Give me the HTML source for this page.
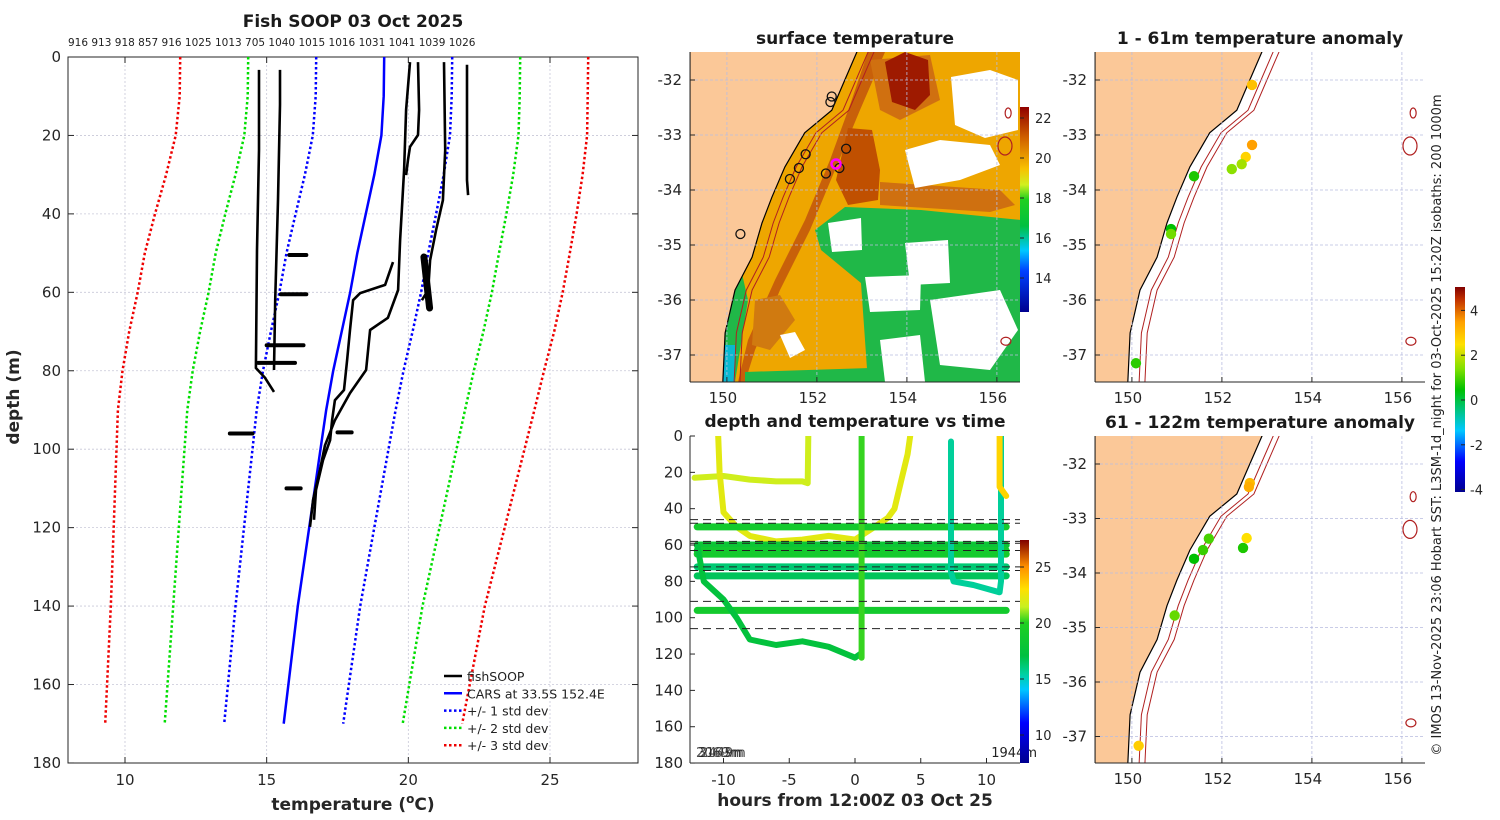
<!DOCTYPE html>
<html><head><meta charset="utf-8"><style>
body{margin:0;background:#fff}
svg{display:block;font-family:"DejaVu Sans","Liberation Sans",sans-serif}
.tk{font-size:15px;fill:#262626}
.ti{font-size:17px;font-weight:bold;fill:#1a1a1a}
</style></head><body>
<svg id="fig" width="1500" height="820" viewBox="0 0 1500 820" xmlns="http://www.w3.org/2000/svg">
<defs>
<linearGradient id="jet" x1="0" y1="1" x2="0" y2="0">
<stop offset="0" stop-color="#00008f"/><stop offset="0.18" stop-color="#0000ff"/><stop offset="0.33" stop-color="#00c8ff"/><stop offset="0.4" stop-color="#00d0a0"/><stop offset="0.48" stop-color="#00c040"/><stop offset="0.63" stop-color="#20d020"/><stop offset="0.7" stop-color="#c8f020"/><stop offset="0.78" stop-color="#ffe000"/><stop offset="0.88" stop-color="#ff9000"/><stop offset="1" stop-color="#800000"/>
</linearGradient>
<linearGradient id="sstjet" x1="0" y1="1" x2="0" y2="0">
<stop offset="0" stop-color="#00008f"/><stop offset="0.2" stop-color="#0040ff"/><stop offset="0.3" stop-color="#00c8ff"/><stop offset="0.42" stop-color="#00c040"/><stop offset="0.55" stop-color="#20d020"/><stop offset="0.62" stop-color="#d0f020"/><stop offset="0.7" stop-color="#f8c000"/><stop offset="0.85" stop-color="#d06000"/><stop offset="1" stop-color="#900000"/>
</linearGradient>
<linearGradient id="anjet" x1="0" y1="1" x2="0" y2="0">
<stop offset="0" stop-color="#00008f"/><stop offset="0.15" stop-color="#0000ff"/><stop offset="0.3" stop-color="#00c8ff"/><stop offset="0.5" stop-color="#00c000"/><stop offset="0.6" stop-color="#80e000"/><stop offset="0.72" stop-color="#ffe000"/><stop offset="0.83" stop-color="#ffa000"/><stop offset="0.94" stop-color="#c03000"/><stop offset="1" stop-color="#800000"/>
</linearGradient>
<clipPath id="cm1"><rect x="690" y="52" width="330" height="330"/></clipPath>
<clipPath id="cm2"><rect x="1095" y="52" width="330" height="330"/></clipPath>
<clipPath id="cm3"><rect x="1095" y="436" width="330" height="327"/></clipPath>
<clipPath id="cts"><rect x="690" y="436" width="330" height="327"/></clipPath>
</defs>
<g id="left"></g><g id="sst"></g><g id="ts"></g><g id="an1"></g><g id="an2"></g>
<text x="1441" y="425" transform="rotate(-90 1441 425)" text-anchor="middle" font-size="13" fill="#222">© IMOS 13-Nov-2025 23:06 Hobart SST: L3SM-1d_night for 03-Oct-2025 15:20Z isobaths: 200  1000m</text>
</svg>
<script>
// ---------- DATA ----------
const depthTicks=[0,20,40,60,80,100,120,140,160,180];
const tempTicks=[10,15,20,25];
const carsDepth=[0,10,20,30,40,50,60,70,80,90,100,120,140,170];
const carsTemp=[19.15,19.13,19.05,18.8,18.5,18.2,17.95,17.65,17.35,17.1,16.9,16.5,16.1,15.6];
const carsStd=[2.4,2.4,2.42,2.45,2.48,2.5,2.5,2.5,2.48,2.45,2.4,2.3,2.2,2.1];
const profA_t=[14.73,14.73,14.66,14.62,14.94,15.26];
const profA_d=[3.3,23.7,49.2,79.3,81.8,85.4];
const profB_t=[15.47,15.47,15.4,15.3,15.26];
const profB_d=[3.3,12.2,36.5,62,79.8];
const profC1_t=[20.06,19.92,19.85,19.71,19.64,19.28,18.65,18.51,17.94,17.41,17.06,16.88,16.64,16.53];
const profC1_d=[1.3,13.5,28.8,46.7,59.4,66.5,69.6,79.8,85.7,92.6,99,105.3,112.9,119.8];
const profC2_t=[19.46,19.18,18.3,18.05,17.94,17.84,17.73,17.41,17.31,17.24,16.99,16.74,16.67];
const profC2_d=[52.3,58.1,60.2,62,69.6,77.3,84.9,87.5,92.6,97.7,102.8,110.4,118];
const profC3_t=[20.34,20.38,20.34,20.06,19.99,19.92];
const profC3_d=[1.3,13.5,19.9,22.9,26.2,30.1];
const profD_t=[21.26,21.3,21.22,20.98,20.77,20.7,20.48];
const profD_d=[1.3,23.7,36.5,44.1,51.8,59.4,62];
const profE_t=[22.07,22.07,22.11];
const profE_d=[2,31.4,35.2];
const blobT1=[15.8,15.5,15.0,14.7,13.7,17.5,15.7,20.55];
const blobT2=[16.4,16.4,16.3,16.0,14.5,18.0,16.2,20.75];
const blobD=[50.5,60.5,73.5,78,96,95.7,110,58];
const siteLabels="916 913 918 857 916 1025 1013 705 1040 1015 1016 1031 1041 1039 1026";

// time-depth chart
const hourTicks=[-10,-5,0,5,10];
const dashDepths=[46,48,58,59,63,72,74,91,106];
const levDepths=[50,60,63,65,72,77,96];
const levTemps=[18.8,18.0,18.6,18.9,16.2,16.6,18.8];
const levStart=[-12,-12,-12,-12,-12,-12,-12];
const levEnd=[11.5,11.5,11.5,11.5,11.5,11.5,11.5];
const trk1_h=[-12.2,-10,-8,-6,-4,-3.6,-3.55];
const trk1_d=[23,22,24,25,25,26,0];
const trk1_T=21.7;
const trk2_h=[-10.4,-10.3,-10,-9,-8,-6,-4,-2,0,1.5,2.5,3,3.5,4,4.2];
const trk2_d=[0,20,42,50,55,58,57,55,57,50,45,40,25,10,0];
const trk2_T=22.2;
const trk3_h=[0.5,0.5];
const trk3_d=[0,122];
const trk3_T=20.2;
const trk4_h=[-12,-11.5,-10,-9,-8,-6,-4,-2,0,0.4];
const trk4_d=[60,80,90,100,112,115,113,116,122,120];
const trk4_T=17.3;
const trk5_h=[7.3,7.3,7.5,9,11,11.1,11.1];
const trk5_d=[3,75,80,82,86,80,0];
const trk5_T=15.6;
const trk6_h=[11,11,11.5];
const trk6_d=[0,28,33];
const trk6_T=23.3;

// maps
const latTicks=[-32,-33,-34,-35,-36,-37];
const lonTicks=[150,152,154,156];
const coastLon=[152.9,152.62,152.33,151.73,151.29,151.0,150.78,150.56,150.18,149.96,149.91];
const coastLat=[-31.47,-32.0,-32.55,-32.96,-33.58,-34.13,-34.6,-35.22,-35.82,-36.6,-37.5];
const sstBoxLon=[152.33,152.3,151.75,151.6,151.4,152.2,152.5,152.65,150.3];
const sstBoxLat=[-32.3,-32.4,-33.35,-33.6,-33.8,-33.7,-33.6,-33.25,-34.8];
const an1Lon=[152.67,152.67,152.53,152.44,152.22,151.38,150.87,150.87,150.09];
const an1Lat=[-32.09,-33.18,-33.40,-33.53,-33.62,-33.75,-34.71,-34.80,-37.15];
const an1Val=[2.5,3.0,2.2,1.2,1.0,0.2,0.0,0.8,0.3];
const an2Lon=[152.62,152.6,152.55,152.47,151.71,151.58,151.38,150.95,150.15];
const an2Lat=[-32.35,-32.42,-33.36,-33.54,-33.37,-33.58,-33.74,-34.78,-37.17];
const an2Val=[2.6,2.8,2.0,0.2,0.5,0.4,0.0,0.7,2.3];

// ---------- HELPERS ----------
const NS="http://www.w3.org/2000/svg";
function mk(tag,par,at){const e=document.createElementNS(NS,tag);for(const k in at)e.setAttribute(k,at[k]);par.appendChild(e);return e;}
function hexRGB(h){return [parseInt(h.substr(1,2),16),parseInt(h.substr(3,2),16),parseInt(h.substr(5,2),16)];}
function cmap(stops,v){ // stops [[val,hex],...]
 if(v<=stops[0][0])return stops[0][1];
 for(let i=1;i<stops.length;i++){if(v<=stops[i][0]){const a=stops[i-1],b=stops[i];const f=(v-a[0])/(b[0]-a[0]);
  const ca=hexRGB(a[1]),cb=hexRGB(b[1]);return `rgb(${ca.map((c,k)=>Math.round(c+(cb[k]-c)*f)).join(',')})`;}}
 return stops[stops.length-1][1];}
const TS=[[7.5,'#00008f'],[11,'#0000ff'],[14,'#00c8ff'],[15.5,'#00d0a0'],[17,'#00c040'],[20,'#20d020'],[21.5,'#c8f020'],[23,'#ffe000'],[25,'#ff9000'],[27.4,'#800000']];
const AS=[[-4.5,'#00008f'],[-3.2,'#0000ff'],[-1.8,'#00c8ff'],[0,'#00c000'],[0.9,'#80e000'],[2,'#ffe000'],[3,'#ffa000'],[4,'#c03000'],[4.5,'#800000']];
function pts(xs,ys,fx,fy){return xs.map((v,i)=>fx(v).toFixed(1)+","+fy(ys[i]).toFixed(1)).join(" ");}

// ---------- LEFT PROFILE ----------
const L=document.getElementById('left');
const LX=t=>125+(t-10)*28.333, LY=d=>57+d*3.922;
let t0=mk('text',L,{x:353,y:27,'text-anchor':'middle',class:'ti'});t0.textContent="Fish SOOP 03 Oct 2025";


let sl=mk('text',L,{x:68,y:46,'font-size':'10.5',fill:'#222'});sl.textContent=siteLabels;


let axL=mk('rect',L,{x:68,y:57,width:570,height:706,fill:'#fff',stroke:'#262626','stroke-width':1});


depthTicks.forEach(d=>{const y=LY(d);
 if(d>0&&d<180){let g=mk('line',L,{x1:68,x2:638,y1:y,y2:y,stroke:'#c8c8d8','stroke-dasharray':'2,2','stroke-width':0.8});
 
 }
 mk('line',L,{x1:68,x2:74,y1:y,y2:y,stroke:'#262626'});mk('line',L,{x1:632,x2:638,y1:y,y2:y,stroke:'#262626'});
 let tx=mk('text',L,{x:61,y:y+5,'text-anchor':'end',class:'tk'});tx.textContent=d;
 
 });
tempTicks.forEach(t=>{const x=LX(t);
 let g=mk('line',L,{x1:x,x2:x,y1:57,y2:763,stroke:'#c8c8d8','stroke-dasharray':'2,2','stroke-width':0.8});
 
 
 mk('line',L,{x1:x,x2:x,y1:57,y2:63,stroke:'#262626'});mk('line',L,{x1:x,x2:x,y1:757,y2:763,stroke:'#262626'});
 let tx=mk('text',L,{x:x,y:785,'text-anchor':'middle',class:'tk'});tx.textContent=t;
 
 });
let xl=mk('text',L,{x:353,y:810,'text-anchor':'middle','font-size':'17','font-weight':'bold',fill:'#262626'});
xl.innerHTML='temperature (<tspan dy="-7" font-size="12">o</tspan><tspan dy="7">C)</tspan>';


let yl=mk('text',L,{x:19,y:397,'text-anchor':'middle','font-size':'17','font-weight':'bold',fill:'#262626',transform:'rotate(-90 19 397)'});yl.textContent="depth (m)";


const stdCols=['#0000ff','#00dd00','#ee0000'];
[1,2,3].forEach((k,i)=>{[-1,1].forEach(s=>{
 let p=mk('polyline',L,{points:pts(carsTemp.map((v,j)=>v+s*k*carsStd[j]),carsDepth,LX,LY),fill:'none',stroke:stdCols[i],'stroke-width':2.5,'stroke-dasharray':'2.5,2.5'});
 
 });});
let cars=mk('polyline',L,{points:pts(carsTemp,carsDepth,LX,LY),fill:'none',stroke:'#0000ff','stroke-width':2.5});


[[profA_t,profA_d],[profB_t,profB_d],[profC1_t,profC1_d],[profC2_t,profC2_d],[profC3_t,profC3_d],[profD_t,profD_d],[profE_t,profE_d]].forEach(p=>{
 let l=mk('polyline',L,{points:pts(p[0],p[1],LX,LY),fill:'none',stroke:'#000','stroke-width':2.6,'stroke-linejoin':'round'});
 
 });
blobD.forEach((d,i)=>{
 const vert=blobT2[i]-blobT1[i]<0.3;
 let b=vert?mk('line',L,{x1:LX(blobT1[i]),x2:LX(blobT2[i]),y1:LY(d-7),y2:LY(d+6),stroke:'#000','stroke-width':7,'stroke-linecap':'round'})
 :mk('line',L,{x1:LX(blobT1[i]),x2:LX(blobT2[i]),y1:LY(d),y2:LY(d),stroke:'#000','stroke-width':4,'stroke-linecap':'round'});
 
 });
const legN=["fishSOOP","CARS at 33.5S 152.4E","+/- 1 std dev","+/- 2 std dev","+/- 3 std dev"];
const legC=['#000','#0000ff','#0000ff','#00dd00','#ee0000'];
legN.forEach((n,i)=>{const y=676+i*17.3;
 let g=mk('g',L,{});
 
 
 mk('line',g,{x1:444,x2:462,y1:y,y2:y,stroke:legC[i],'stroke-width':2.5,'stroke-dasharray':i>1?'2.5,2.5':'none'});
 let t=mk('text',g,{x:467,y:y+5,'font-size':'12.5',fill:'#222'});t.textContent=n;});

// ---------- MAP HELPERS ----------
const MLON=(x0)=>lon=>x0+(lon-149.18)*45;
const MLAT=(y0)=>lat=>y0+28+(-32-lat)*55;
function drawMap(G,x0,y0,h,clip,name){
 const fx=MLON(x0),fy=MLAT(y0);
 let bg=mk('rect',G,{x:x0,y:y0,width:330,height:h,fill:'#fff'});
 
 
 return {fx,fy};
}
function landAndGrid(G,x0,y0,h,clip,fx,fy,iso){
 const g=mk('g',G,{'clip-path':'url(#'+clip+')'});
 let land=mk('polygon',g,{points:pts(coastLon,coastLat,fx,fy)+` ${x0},${y0+h+5} ${x0},${y0-5}`,fill:'#fbc898',stroke:'#000','stroke-width':1.2});
 
 
 if(iso){[0.25,0.38].forEach(o=>{
  let l=mk('polyline',g,{points:pts(coastLon.map(v=>v+o),coastLat,fx,fy),fill:'none',stroke:'#b02020','stroke-width':1});
  
  });
  [[156.25,-32.6,3,5],[156.18,-33.2,7,9],[156.2,-36.75,5,4]].forEach(s=>{
  let e=mk('ellipse',g,{cx:fx(s[0]),cy:fy(s[1]),rx:s[2],ry:s[3],fill:'none',stroke:'#b02020','stroke-width':1.2});
  
  });}
 lonTicks.forEach(l=>{let x=fx(l);let gl=mk('line',g,{x1:x,x2:x,y1:y0,y2:y0+h,stroke:'#b8bce0','stroke-dasharray':'3,2','stroke-width':0.8});
  
  });
 latTicks.forEach(l=>{let y=fy(l);let gl=mk('line',g,{x1:x0,x2:x0+330,y1:y,y2:y,stroke:'#b8bce0','stroke-dasharray':'3,2','stroke-width':0.8});
  
  });
 mk('line',G,{x1:x0,x2:x0+330,y1:y0+h,y2:y0+h,stroke:'#262626'});
 mk('line',G,{x1:x0,x2:x0,y1:y0,y2:y0+h,stroke:'#262626'});
 lonTicks.forEach(l=>{let x=fx(l);mk('line',G,{x1:x,x2:x,y1:y0+h-5,y2:y0+h,stroke:'#262626'});
  let t=mk('text',G,{x:x-4,y:y0+h+21,'text-anchor':'middle',class:'tk'});t.textContent=l;
  
  });
 latTicks.forEach(l=>{let y=fy(l);mk('line',G,{x1:x0,x2:x0+5,y1:y,y2:y,stroke:'#262626'});
  let t=mk('text',G,{x:x0-8,y:y+5,'text-anchor':'end',class:'tk'});t.textContent=l;
  
  });
}

// ---------- SST MAP ----------
const S=document.getElementById('sst');
let st=mk('text',S,{x:855,y:44,'text-anchor':'middle',class:'ti'});st.textContent="surface temperature";


const sm=drawMap(S,690,52,330,'cm1','sst-map');
const SG=mk('g',S,{'clip-path':'url(#cm1)'});
const shapes=[
 ['#eea600','690,52 1020,52 1020,382 690,382'],
 ['#c8600a','868,52 885,52 860,110 835,170 810,230 780,290 755,350 745,382 738,382 748,340 775,280 805,220 830,160 850,105'],
 ['#d07010','870,60 930,55 940,100 900,120 880,110'],
 ['#9e1a00','885,62 905,52 928,60 930,95 915,110 892,102'],
 ['#c05000','848,128 872,130 880,170 878,200 848,205 836,180'],
 ['#cf7010','880,182 1000,190 1015,205 990,212 880,205'],
 ['#d07a10','755,300 780,295 795,320 770,350 752,345'],
 ['#20b848','815,230 845,207 921,210 1021,220 1021,383 868,383 861,283 821,250'],
 ['#20b848','716,270 740,265 748,300 735,382 716,382'],
 ['#20b848','745,372 870,368 870,383 745,383'],
 ['#0ab8d0','722,345 735,345 735,382 722,382'],
 ['#ffffff','951,77 990,70 1018,80 1018,130 985,138 955,125'],
 ['#ffffff','905,150 940,140 990,145 1000,165 960,180 915,188'],
 ['#ffffff','828,223 861,218 862,250 832,252'],
 ['#ffffff','905,243 948,240 950,283 910,285'],
 ['#ffffff','865,277 921,275 920,310 870,312'],
 ['#ffffff','930,300 1000,290 1018,330 990,370 940,365'],
 ['#ffffff','880,340 920,335 925,382 885,382'],
 ['#ffffff','780,335 795,332 805,350 790,358']
];
shapes.forEach((s,i)=>{let p=mk('polygon',SG,{points:s[1],fill:s[0]});
 
 });
landAndGrid(S,690,52,330,'cm1',sm.fx,sm.fy,true);
sstBoxLon.forEach((l,i)=>{let c=mk('circle',S,{cx:sm.fx(l),cy:sm.fy(sstBoxLat[i]),r:4.5,fill:'none',stroke:'#111','stroke-width':1.3});
 
 });
let mg=mk('circle',S,{cx:836,cy:164,r:4.5,fill:'none',stroke:'#ff00ff','stroke-width':2.5});


let cb1=mk('rect',S,{x:1020,y:107,width:9,height:205,fill:'url(#sstjet)'});


const sstCbTicks=[22,20,18,16,14];
sstCbTicks.forEach(v=>{const y=118+(22-v)*20;mk('line',S,{x1:1020,x2:1024,y1:y,y2:y,stroke:'#222'});
 let t=mk('text',S,{x:1035,y:y+5,'font-size':'13',fill:'#262626'});t.textContent=v;
 
 });

// ---------- TIME-DEPTH ----------
const T=document.getElementById('ts');
const TX=h=>855+h*13.15, TY=d=>436+d*1.817;
const tempCol=v=>cmap(TS,v);
let tt=mk('text',T,{x:855,y:427,'text-anchor':'middle',class:'ti'});tt.textContent="depth and temperature vs time";


let tax=mk('rect',T,{x:690,y:436,width:330,height:327,fill:'#fff'});


const TG=mk('g',T,{'clip-path':'url(#cts)'});
function trk(h,d,Tv){let p=mk('polyline',TG,{points:pts(h,d,TX,TY),fill:'none',stroke:tempCol(Tv),'stroke-width':6,'stroke-linejoin':'round','stroke-linecap':'round'});
 
 }
trk(trk1_h,trk1_d,trk1_T);trk(trk2_h,trk2_d,trk2_T);
levDepths.forEach((d,i)=>{let p=mk('line',TG,{x1:TX(levStart[i]),x2:TX(levEnd[i]),y1:TY(d),y2:TY(d),stroke:tempCol(levTemps[i]),'stroke-width':7,'stroke-linecap':'round'});
 
 });
trk(trk4_h,trk4_d,trk4_T);trk(trk3_h,trk3_d,trk3_T);trk(trk5_h,trk5_d,trk5_T);trk(trk6_h,trk6_d,trk6_T);
dashDepths.forEach(d=>{let l=mk('line',TG,{x1:690,x2:1020,y1:TY(d),y2:TY(d),stroke:'#222','stroke-width':1,'stroke-dasharray':'8,5'});
 
 });
mk('line',T,{x1:690,x2:1020,y1:763,y2:763,stroke:'#262626'});mk('line',T,{x1:690,x2:690,y1:436,y2:763,stroke:'#262626'});
depthTicks.forEach(d=>{const y=TY(d);mk('line',T,{x1:690,x2:695,y1:y,y2:y,stroke:'#262626'});
 let t=mk('text',T,{x:683,y:y+5,'text-anchor':'end',class:'tk'});t.textContent=d;
 
 });
hourTicks.forEach(h=>{const x=TX(h);mk('line',T,{x1:x,x2:x,y1:758,y2:763,stroke:'#262626'});
 let t=mk('text',T,{x:x,y:785,'text-anchor':'middle',class:'tk'});t.textContent=h;
 
 });
let hx=mk('text',T,{x:855,y:806,'text-anchor':'middle','font-size':'17','font-weight':'bold',fill:'#262626'});hx.textContent="hours from 12:00Z 03 Oct 25";


["2069m","3163m","2449m"].forEach((s,i)=>{let t=mk('text',T,{x:696+i*2,y:757,'font-size':'13',fill:'#222','fill-opacity':0.8});t.textContent=s;
 
 });
let r1=mk('text',T,{x:1037,y:757,'text-anchor':'end','font-size':'13',fill:'#222'});r1.textContent="1944m";


let cb2=mk('rect',T,{x:1020,y:540,width:9,height:223,fill:'url(#jet)'});


const tsCbTicks=[25,20,15,10];
tsCbTicks.forEach(v=>{const y=567+(25-v)*11.2;mk('line',T,{x1:1020,x2:1024,y1:y,y2:y,stroke:'#222'});
 let t=mk('text',T,{x:1035,y:y+5,'font-size':'13',fill:'#262626'});t.textContent=v;
 
 });

// ---------- ANOMALY MAPS ----------
const anCol=v=>cmap(AS,v);
function anomMap(id,y0,h,clip,title,lons,lats,vals,name){
 const G=document.getElementById(id);
 let t=mk('text',G,{x:1260,y:y0-8,'text-anchor':'middle',class:'ti'});t.textContent=title;
 
 
 const m=drawMap(G,1095,y0,h,clip,name);
 const fy=lat=>y0+28+(-32-lat)*(h>328?55:54.5);
 landAndGrid(G,1095,y0,h,clip,m.fx,fy,true);
 lons.forEach((l,i)=>{let c=mk('circle',G,{cx:m.fx(l),cy:fy(lats[i]),r:5.2,fill:anCol(vals[i])});
  
  });
}
anomMap('an1',52,330,'cm2',"1 - 61m temperature anomaly",an1Lon,an1Lat,an1Val,'anomaly-map-shallow');
anomMap('an2',436,327,'cm3',"61 - 122m temperature anomaly",an2Lon,an2Lat,an2Val,'anomaly-map-deep');
const A=document.getElementById('an1');
let cb3=mk('rect',A,{x:1455,y:287,width:10,height:205,fill:'url(#anjet)'});


const anCbTicks=[4,2,0,-2,-4];
anCbTicks.forEach(v=>{const y=400-v*22.4;mk('line',A,{x1:1461,x2:1465,y1:y,y2:y,stroke:'#222'});
 let t=mk('text',A,{x:1470,y:y+5,'font-size':'13',fill:'#262626'});t.textContent=v;
 
 });
</script>
</body></html>
